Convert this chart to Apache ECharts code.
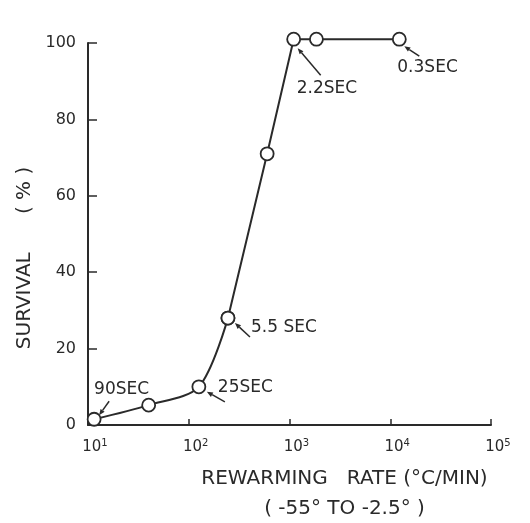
<!DOCTYPE html>
<html><head><meta charset="utf-8">
<script src="https://cdn.jsdelivr.net/npm/echarts@6/dist/echarts.min.js"></script>
<style>html,body{margin:0;padding:0;background:#fff}#c{width:530px;height:523px}</style>
</head><body><div id="c"></div>
<script>
// ---- data ----
const rates = [11.5, 40, 126, 245, 600, 1100, 1850, 12300];   // °C/min
const survival = [1.5, 5.2, 10, 28, 71, 101, 101, 101];        // %
const xTicks = [10, 100, 1000, 10000, 100000];
const yTicks = [0, 20, 40, 60, 80, 100];
const annIndex = [0, 2, 3, 5, 7];
const annText = ['90SEC', '25SEC', '5.5 SEC', '2.2SEC', '0.3SEC'];
const curvedUpTo = 3; // points 0..3 joined by a smooth curve, rest straight
// ---- annotation layout (pixel offsets from the point) ----
const annLayout = [
  {tx: 0,  ty: -30, head: [5, -4],  tail: [15, -18]},
  {tx: 19, ty: 1,   head: [8, 5],   tail: [26, 15]},
  {tx: 23, ty: 10,  head: [7, 5],   tail: [22, 19]},
  {tx: 3,  ty: 49,  head: [4, 9],   tail: [27, 36]},
  {tx: -2, ty: 28,  head: [5, 7],   tail: [20, 17]}
];
const INK = '#2a2a2a';
const FONT = 'DejaVu Sans';

const pts = rates.map((r, i) => [r, survival[i]]);
const lineStyle = {color: INK, width: 2};
const itemStyle = {color: '#fff', borderColor: INK, borderWidth: 1.8};

const chart = echarts.init(document.getElementById('c'), null, {renderer: 'canvas'});
const option = {
  backgroundColor: '#fff',
  animation: false,
  grid: {left: 88, right: 39, top: 43, bottom: 98, outerBoundsMode: 'none', containLabel: false},
  xAxis: {
    type: 'log', logBase: 10, min: xTicks[0], max: xTicks[xTicks.length - 1],
    axisLine: {lineStyle: {color: INK, width: 2}},
    axisTick: {inside: true, length: 6, lineStyle: {color: INK, width: 1.5}},
    splitLine: {show: false},
    minorTick: {show: false},
    axisLabel: {
      margin: 13, color: INK, padding: [0, 0, 0, 14],
      formatter: v => '{b|10}{s|' + Math.round(Math.log10(v)) + '}',
      rich: {
        b: {fontFamily: FONT, fontSize: 15, color: INK},
        s: {fontFamily: FONT, fontSize: 10, color: INK, verticalAlign: 'top', padding: [0, 0, 8, 0]}
      }
    },
    name: 'REWARMING   RATE (°C/MIN)\n( -55° TO -2.5° )',
    nameLocation: 'middle', nameGap: 39,
    nameTextStyle: {fontFamily: FONT, fontSize: 20, color: INK, lineHeight: 30, padding: [0, 0, 0, 110]}
  },
  yAxis: {
    type: 'value', min: yTicks[0], max: yTicks[yTicks.length - 1], interval: 20,
    axisLine: {show: true, lineStyle: {color: INK, width: 2}},
    axisTick: {show: true, inside: true, length: 9, lineStyle: {color: INK, width: 1.5}},
    splitLine: {show: false},
    axisLabel: {margin: 12, color: INK, fontFamily: FONT, fontSize: 16},
    name: 'SURVIVAL      ( % )',
    nameLocation: 'middle', nameGap: 53,
    nameTextStyle: {fontFamily: FONT, fontSize: 20, color: INK, padding: [0, 48, 0, 0]}
  },
  series: [{
    type: 'line',
    data: pts.slice(0, curvedUpTo + 1),
    smooth: 0.3,
    clip: false,
    symbol: 'circle', symbolSize: 13,
    lineStyle, itemStyle, z: 3
  }, {
    type: 'line',
    data: pts.slice(curvedUpTo),
    smooth: false,
    clip: false,
    symbol: 'circle', symbolSize: 13,
    lineStyle, itemStyle, z: 2
  }]
};
chart.setOption(option);

function drawAnnotations() {
  const els = [];
  annIndex.forEach((idx, k) => {
    const p = chart.convertToPixel({xAxisIndex: 0, yAxisIndex: 0}, [rates[idx], survival[idx]]);
    const L = annLayout[k];
    const hx = p[0] + L.head[0], hy = p[1] + L.head[1];
    const tx = p[0] + L.tail[0], ty = p[1] + L.tail[1];
    const dx = hx - tx, dy = hy - ty, len = Math.hypot(dx, dy);
    const ux = dx / len, uy = dy / len;
    const bx = hx - ux * 6, by = hy - uy * 6;
    els.push({type: 'line', shape: {x1: tx, y1: ty, x2: bx, y2: by}, style: {stroke: INK, lineWidth: 1.5}, z: 10});
    els.push({type: 'polygon', shape: {points: [[hx, hy], [bx - uy * 2.5, by + ux * 2.5], [bx + uy * 2.5, by - ux * 2.5]]}, style: {fill: INK}, z: 10});
    els.push({type: 'text', x: p[0] + L.tx, y: p[1] + L.ty, style: {text: annText[k], fontFamily: FONT, fontSize: 17, fill: INK, align: 'left', verticalAlign: 'middle'}, z: 10});
  });
  chart.setOption({graphic: els});
}
drawAnnotations();
</script>
</body></html>
